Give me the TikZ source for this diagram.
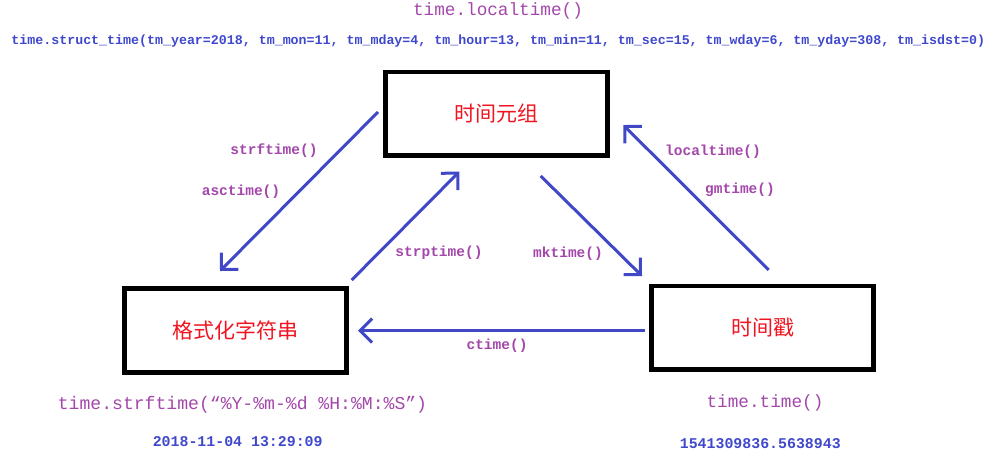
\documentclass[tikz,border=0pt]{standalone}
\usepackage{fontspec}
\setmonofont{Liberation Mono}
\newfontfamily\cjk{Noto Sans CJK SC}
\usetikzlibrary{arrows.meta}
\definecolor{arrowblue}{RGB}{64,72,200}
\definecolor{labelpurple}{RGB}{163,71,170}
\definecolor{textblue}{RGB}{63,72,204}
\definecolor{boxred}{RGB}{240,20,32}
\begin{document}
\begin{tikzpicture}[x=1pt,y=-1pt,
  box/.style={draw=black,line width=4.7pt,minimum width=222pt,minimum height=83.5pt,inner sep=0pt,font=\cjk\fontsize{21}{21}\selectfont,text=boxred},
  conn/.style={draw=arrowblue,line width=3pt,-{Straight Barb[length=12pt,width=24pt]}},
  fn/.style={font=\ttfamily\bfseries\fontsize{14.5}{14.5}\selectfont,text=labelpurple,inner sep=0pt},
  big/.style={font=\ttfamily\fontsize{17.7}{17.7}\selectfont,text=labelpurple,inner sep=0pt},
  val/.style={font=\ttfamily\bfseries\fontsize{14.9}{14.9}\selectfont,text=textblue,inner sep=0pt},
  struct/.style={font=\ttfamily\bfseries\fontsize{13.3}{13.3}\selectfont,text=textblue,inner sep=0pt}
]
\useasboundingbox (0,0) rectangle (995,461);
% boxes
\node[box] (tuple) at (496.2,113.7) {时间元组};
\node[box] (fmt) at (235.5,330.5) {格式化字符串};
\node[box] (stamp) at (762.5,327.7) {时间戳};
% arrow end points
\coordinate (a1s) at (378,112);   \coordinate (a1e) at (220,271);
\coordinate (a2s) at (351.7,280); \coordinate (a2e) at (459.3,171.7);
\coordinate (a3s) at (540.7,176); \coordinate (a3e) at (642,276);
\coordinate (a4s) at (768.7,270); \coordinate (a4e) at (623.3,125);
\coordinate (a5s) at (645,330.5); \coordinate (a5e) at (358,330.5);
\draw[conn] (a1s) -- (a1e);
\draw[conn] (a2s) -- (a2e);
\draw[conn] (a3s) -- (a3e);
\draw[conn] (a4s) -- (a4e);
\draw[conn] (a5s) -- (a5e);
% function labels
\node[fn] (lstrf) at (274,151) {strftime()};
\node[fn] (lasc) at (241,192) {asctime()};
\node[fn] (lstrp) at (439,253) {strptime()};
\node[fn] (lloc) at (713,152) {localtime()};
\node[fn] (lgm) at (740,190) {gmtime()};
\node[fn] (lmk) at (568,254) {mktime()};
\node[fn] (lct) at (497,346) {ctime()};
% top texts
\node[big] (tloc) at (498,11) {time.localtime()};
\node[struct] (tstruct) at (498.3,41) {time.struct\_time(tm\_year=2018, tm\_mon=11, tm\_mday=4, tm\_hour=13, tm\_min=11, tm\_sec=15, tm\_wday=6, tm\_yday=308, tm\_isdst=0)};
% bottom texts
\node[big,font=\ttfamily\fontsize{18.1}{18.1}\selectfont] (tstrf) at (242.5,405) {time.strftime(“\%Y-\%m-\%d \%H:\%M:\%S”)};
\node[val] (tdate) at (237.7,442) {2018-11-04 13:29:09};
\node[big] (ttime) at (765,403) {time.time()};
\node[val] (tnum) at (760.3,443.3) {1541309836.5638943};
\end{tikzpicture}
\end{document}
